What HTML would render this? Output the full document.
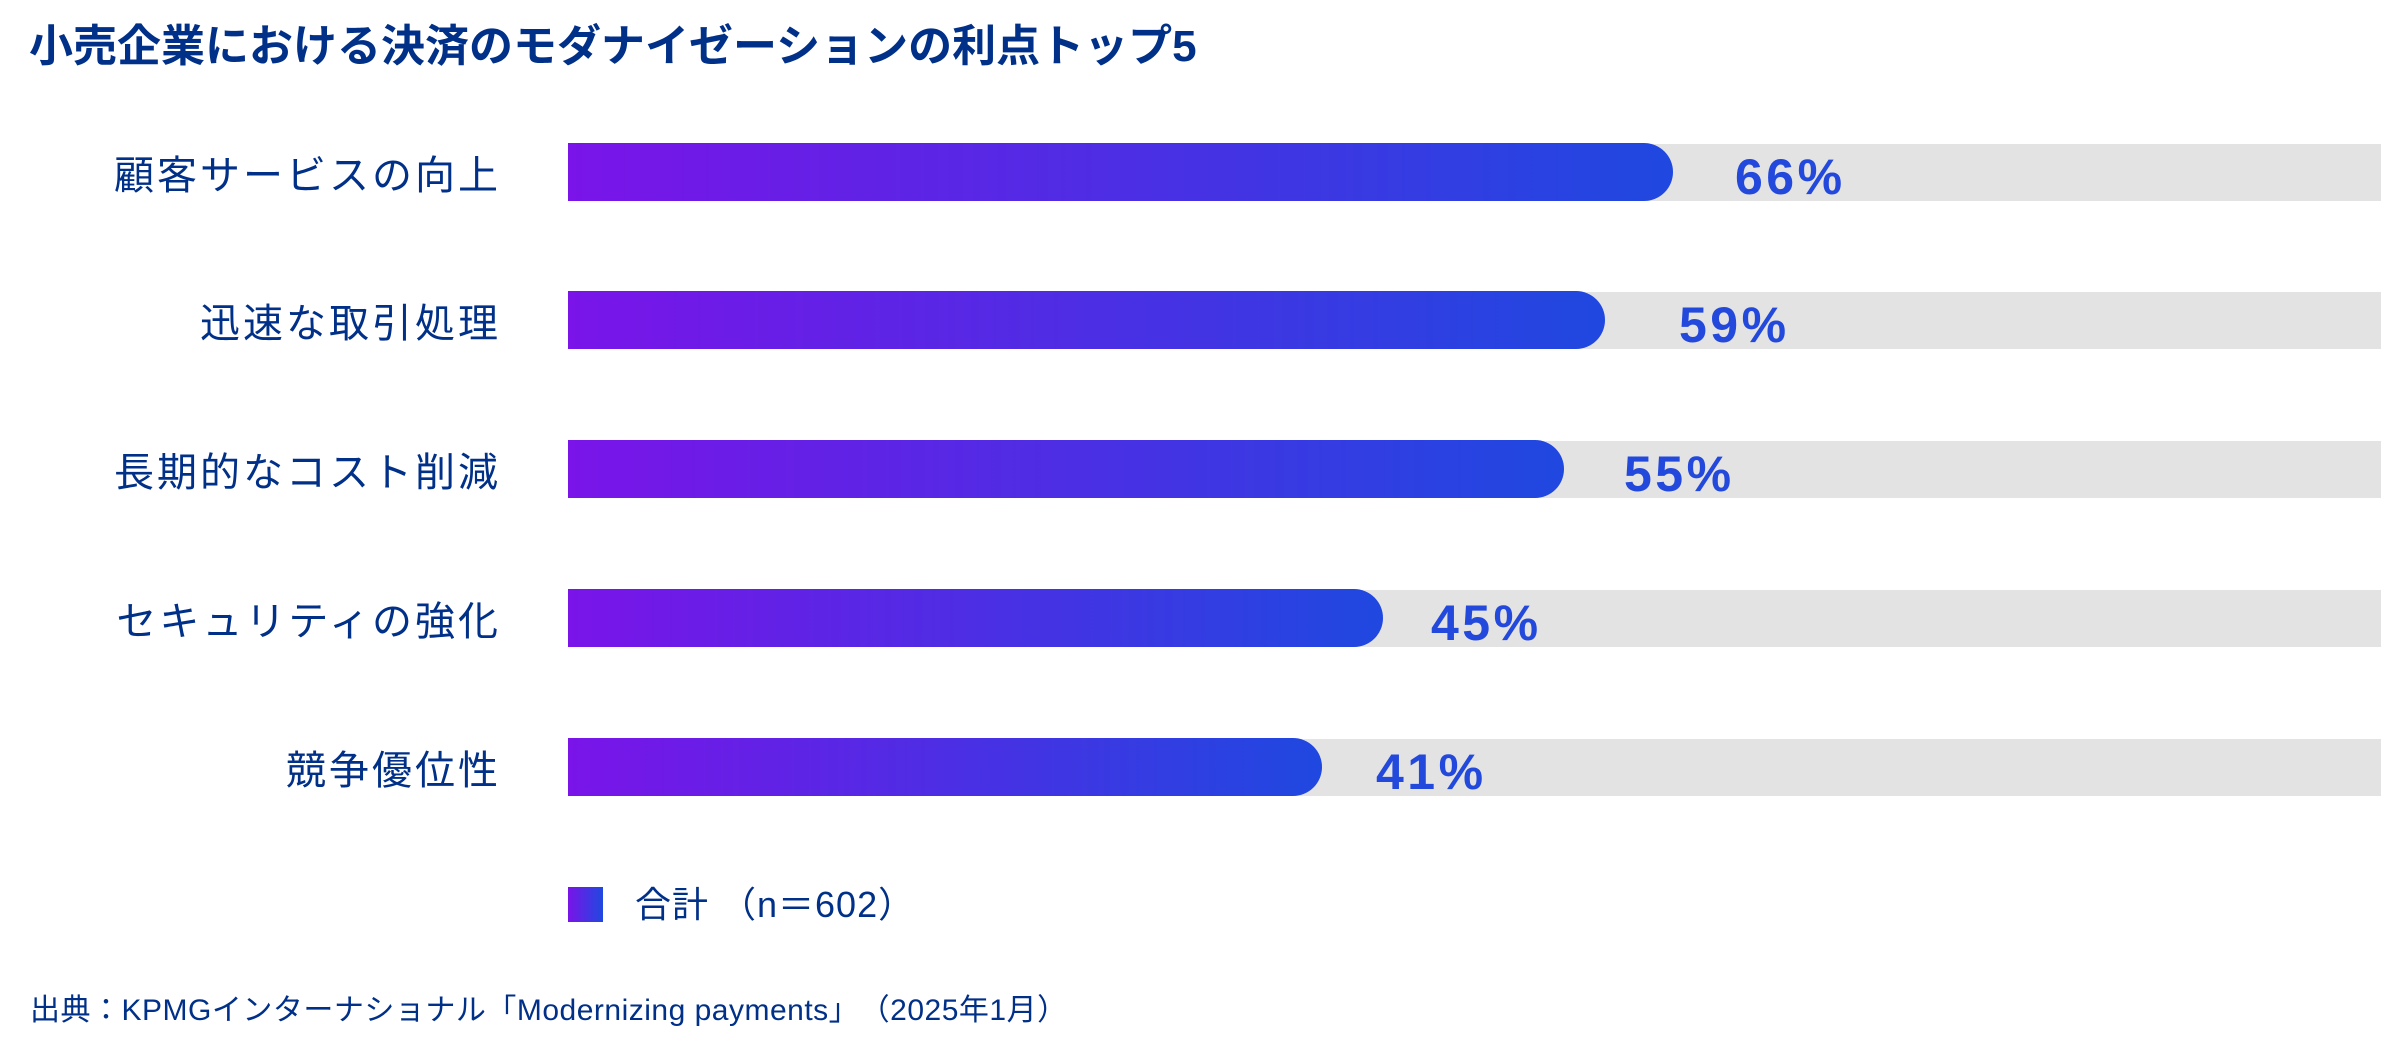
<!DOCTYPE html>
<html><head><meta charset="utf-8"><style>
body{margin:0;width:2381px;height:1050px;background:#fff;position:relative;overflow:hidden;font-family:"Liberation Sans","Noto Sans CJK JP",sans-serif;}
.t{position:absolute;left:29px;top:10px;font-size:44px;font-weight:bold;color:#003087;white-space:nowrap;}
.lab{position:absolute;right:1880px;font-size:40px;color:#003087;letter-spacing:3px;white-space:nowrap;line-height:58px;}
.bg{position:absolute;left:568px;width:1813px;height:57px;background:#e3e3e3;}
.bar{position:absolute;left:568px;height:58px;border-radius:0 29px 29px 0;background:linear-gradient(90deg,#7a14e8,#1f48e0);}
.v{position:absolute;font-size:50px;font-weight:bold;color:#2349dc;letter-spacing:3.5px;line-height:58px;}
</style></head><body>
<div class="t">小売企業における決済のモダナイゼーションの利点トップ5</div>

<div class="lab" style="top:147px">顧客サービスの向上</div>
<div class="bg" style="top:144px"></div><div class="bar" style="top:143px;width:1105px"></div>
<div class="v" style="top:148px;left:1735px">66%</div>

<div class="lab" style="top:295px">迅速な取引処理</div>
<div class="bg" style="top:292px"></div><div class="bar" style="top:291px;width:1037px"></div>
<div class="v" style="top:296px;left:1679px">59%</div>

<div class="lab" style="top:444px">長期的なコスト削減</div>
<div class="bg" style="top:441px"></div><div class="bar" style="top:440px;width:996px"></div>
<div class="v" style="top:445px;left:1624px">55%</div>

<div class="lab" style="top:593px">セキュリティの強化</div>
<div class="bg" style="top:590px"></div><div class="bar" style="top:589px;width:815px"></div>
<div class="v" style="top:594px;left:1431px">45%</div>

<div class="lab" style="top:742px">競争優位性</div>
<div class="bg" style="top:739px"></div><div class="bar" style="top:738px;width:754px"></div>
<div class="v" style="top:743px;left:1376px">41%</div>

<div style="position:absolute;left:568px;top:887px;width:35px;height:35px;background:linear-gradient(90deg,#7a14e8,#1f48e0)"></div>
<div style="position:absolute;left:635px;top:880px;font-size:36px;color:#003087;line-height:50px;white-space:nowrap;letter-spacing:1px">合計 （n＝602）</div>

<div style="position:absolute;left:30px;top:991px;font-size:30px;color:#003087;line-height:40px;white-space:nowrap;letter-spacing:0.5px">出典：KPMGインターナショナル「Modernizing payments」　（2025年1月）</div>
</body></html>
